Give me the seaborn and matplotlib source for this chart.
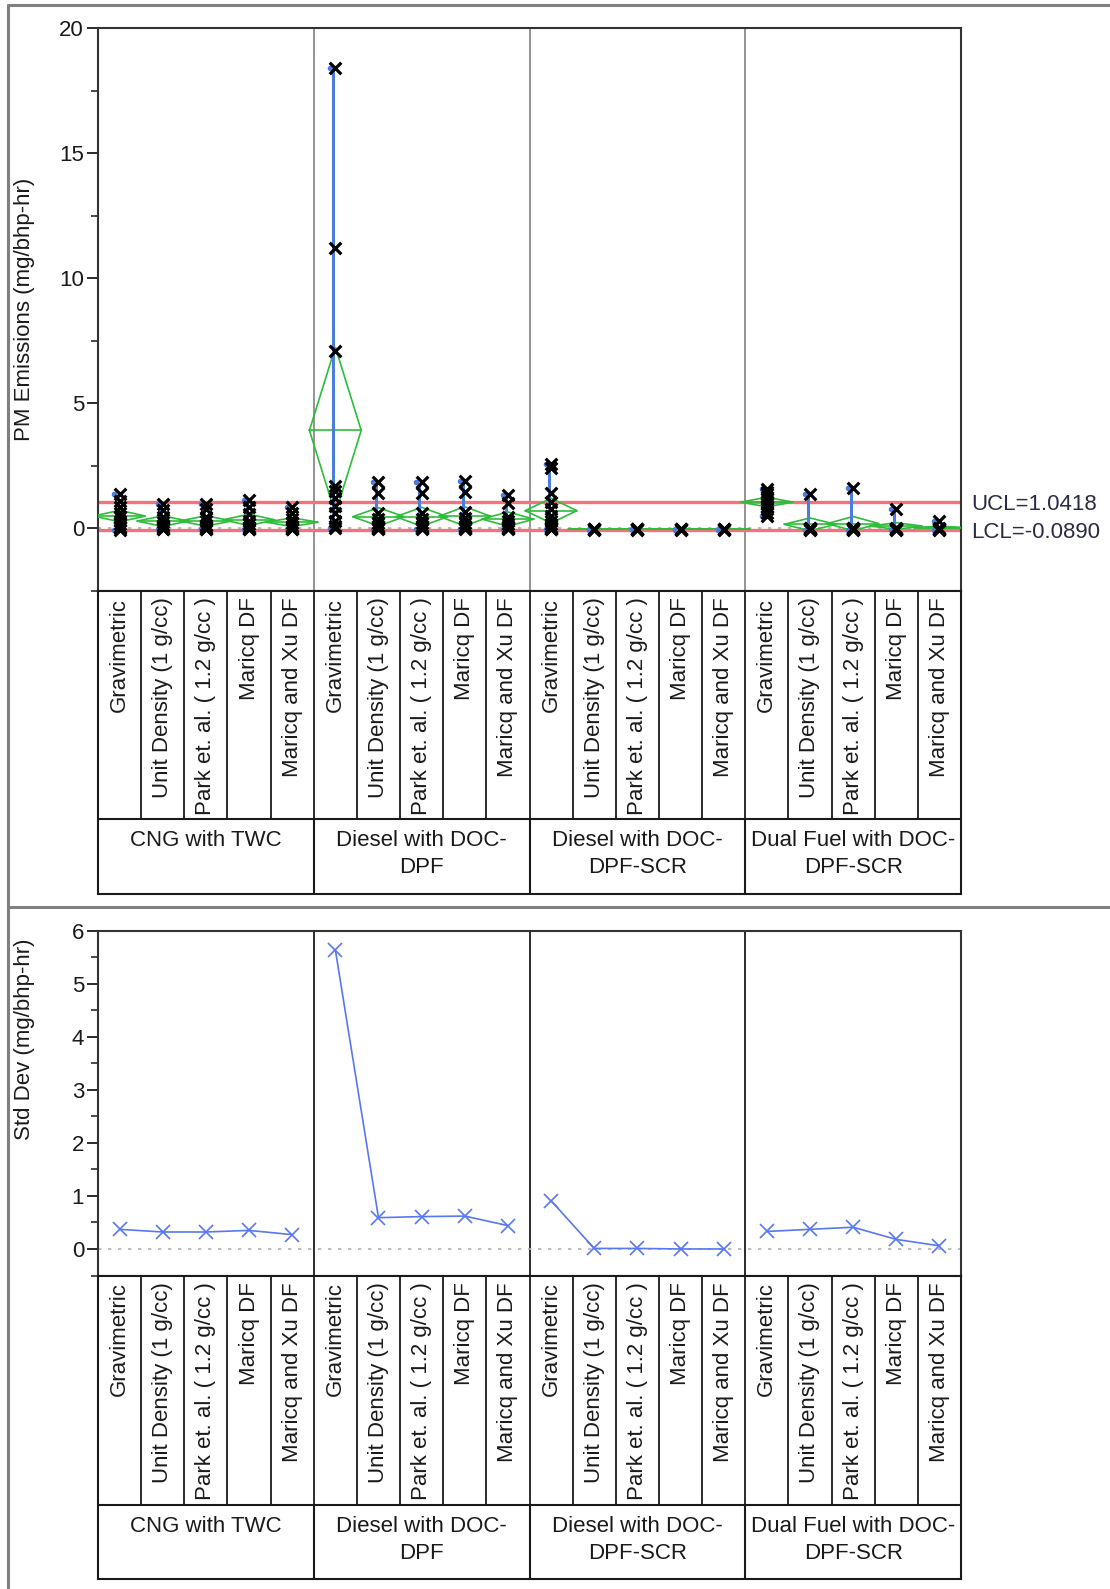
import numpy as np
import pandas as pd
import matplotlib
matplotlib.use("Agg")
import matplotlib.pyplot as plt
from matplotlib.lines import Line2D
from matplotlib.patches import Polygon
import seaborn as sns

sns.set_theme(style="white")
plt.rcParams["font.family"] = ["Liberation Sans", "DejaVu Sans"]

# ---------------------------------------------------------------- data
systems = ["CNG with TWC", "Diesel with DOC-\nDPF",
           "Diesel with DOC-\nDPF-SCR", "Dual Fuel with DOC-\nDPF-SCR"]
methods = ["Gravimetric", "Unit Density (1 g/cc)", "Park et. al. ( 1.2 g/cc )",
           "Maricq DF", "Maricq and Xu DF"]

# PM emissions (mg/bhp-hr), one list per method within each aftertreatment system
pm_cng_twc = [
    [1.38, 1.1, 0.85, 0.6, 0.45, 0.3, 0.15, 0.05, 0.0, -0.08],
    [0.98, 0.72, 0.45, 0.25, 0.12, 0.05, 0.0, -0.02, -0.05],
    [0.98, 0.75, 0.45, 0.28, 0.12, 0.05, 0.0, -0.02, -0.05],
    [1.12, 0.85, 0.55, 0.3, 0.15, 0.05, 0.0, -0.02, -0.05],
    [0.85, 0.6, 0.38, 0.2, 0.1, 0.04, 0.0, -0.02, -0.04],
]
pm_diesel_dpf = [
    [18.4, 11.2, 7.1, 1.7, 1.5, 1.2, 0.9, 0.6, 0.3, 0.1, 0.0],
    [1.85, 1.42, 0.6, 0.35, 0.2, 0.1, 0.05, 0.0, 0.0, -0.05],
    [1.85, 1.4, 0.62, 0.35, 0.2, 0.1, 0.05, 0.0, 0.0, -0.05],
    [1.88, 1.45, 0.65, 0.4, 0.22, 0.1, 0.05, 0.0, 0.0, -0.05],
    [1.32, 1.0, 0.45, 0.3, 0.15, 0.05, 0.0, 0.0, -0.05],
]
pm_diesel_scr = [
    [2.55, 2.4, 1.4, 1.05, 0.75, 0.5, 0.3, 0.15, 0.05, 0.0, 0.0, -0.05, -0.05],
    [-0.02, -0.04, -0.05, -0.05, -0.06],
    [-0.02, -0.03, -0.05, -0.05, -0.06],
    [-0.03, -0.05, -0.05, -0.06],
    [-0.03, -0.05, -0.05, -0.06],
]
pm_dual_fuel = [
    [1.55, 1.45, 1.35, 1.25, 1.15, 1.05, 0.95, 0.85, 0.75, 0.6, 0.48],
    [1.38, 0.02, 0.0, -0.02, -0.04, -0.05, -0.05, -0.06],
    [1.62, 0.02, 0.0, -0.02, -0.04, -0.05, -0.05, -0.06],
    [0.78, 0.0, -0.02, -0.04, -0.05, -0.05, -0.06],
    [0.28, 0.02, -0.02, -0.04, -0.05, -0.06],
]

# standard deviation of each cell (mg/bhp-hr)
sd_cng_twc = [0.37, 0.32, 0.32, 0.35, 0.27]
sd_diesel_dpf = [5.64, 0.59, 0.61, 0.62, 0.44]
sd_diesel_scr = [0.91, 0.01, 0.01, 0.0, 0.0]
sd_dual_fuel = [0.33, 0.37, 0.41, 0.18, 0.06]

ucl = 1.0418
lcl = -0.0890

pm_tick_values = [0, 5, 10, 15, 20]
sd_tick_values = [0, 1, 2, 3, 4, 5, 6]

# ---------------------------------------------------------------- tidy tables
pm_groups = [pm_cng_twc, pm_diesel_dpf, pm_diesel_scr, pm_dual_fuel]
sd_groups = [sd_cng_twc, sd_diesel_dpf, sd_diesel_scr, sd_dual_fuel]

pm_rows, sd_rows = [], []
for gi, system in enumerate(systems):
    for mi, method in enumerate(methods):
        pos = gi * len(methods) + mi + 0.5
        for v in pm_groups[gi][mi]:
            pm_rows.append({"system": system, "method": method, "pos": pos, "pm": v})
        sd_rows.append({"system": system, "method": method, "pos": pos,
                        "sd": sd_groups[gi][mi], "n": len(pm_groups[gi][mi])})
pm_df = pd.DataFrame(pm_rows)
sd_df = pd.DataFrame(sd_rows)
cell_stats = (pm_df.groupby("pos")["pm"].agg(["mean", "min", "max", "count"])
              .reset_index().merge(sd_df[["pos", "sd"]], on="pos"))

n_cells = len(systems) * len(methods)

# ---------------------------------------------------------------- layout (pixels)
W, H = 1110, 1589
fig = plt.figure(figsize=(W / 100, H / 100), dpi=100)


def px_axes(left, top, right, bottom):
    return fig.add_axes([left / W, 1 - bottom / H, (right - left) / W, (bottom - top) / H])


X0, X1 = 98, 961
TOP_T, TOP_B = 28.4, 590.5
BOT_T, BOT_B = 930.6, 1275.5

ink = "#1a1a1a"
frame_grey = "#808080"
red = "#f2737e"
blue = "#4a7ddc"
green = "#2dbd3a"
sd_blue = "#5877f5"
FS = 16


def style_value_axes(ax, ymin, ymax, major, minor_step, div_color):
    ax.set_xlim(0, n_cells)
    ax.set_ylim(ymin, ymax)
    ax.set_xticks([])
    ax.set_yticks(major)
    ax.set_yticks(np.arange(ymin, ymax + 1e-9, minor_step), minor=True)
    ax.tick_params(axis="y", which="major", direction="out", length=8, width=1.3,
                   color=ink, labelsize=FS, labelcolor=ink, pad=2, left=True)
    ax.tick_params(axis="y", which="minor", direction="out", length=5, width=1.1,
                   color=ink, left=True)
    for s in ax.spines.values():
        s.set_visible(True)
        s.set_color("#333333")
        s.set_linewidth(1.5)
    for b in range(len(methods), n_cells, len(methods)):
        ax.axvline(b, color=div_color, lw=1.3, zorder=1)
    ax.set_xlabel("")
    ax.set_ylabel("")


def draw_table(top, level_bottom, group_bottom):
    ax = px_axes(X0, top, X1, group_bottom)
    h = group_bottom - top
    lvl = level_bottom - top
    ax.set_xlim(0, n_cells)
    ax.set_ylim(h, 0)
    ax.set_xticks([])
    ax.set_yticks([])
    for s in ax.spines.values():
        s.set_visible(True)
        s.set_color(ink)
        s.set_linewidth(1.5)
    ax.hlines(lvl, 0, n_cells, color=ink, lw=1.5)
    for i in range(1, n_cells):
        ax.vlines(i, 0, lvl, color=ink, lw=1.3)
    for b in range(len(methods), n_cells, len(methods)):
        ax.vlines(b, lvl, h, color=ink, lw=1.5)
    for i in range(n_cells):
        ax.text(i + 0.5, 7, methods[i % len(methods)], rotation=90, ha="center",
                va="top", fontsize=FS, color=ink)
    for gi, system in enumerate(systems):
        ax.text(gi * len(methods) + len(methods) / 2, lvl + 11, system, ha="center",
                va="top", fontsize=FS, color=ink, linespacing=1.4,
                multialignment="center")


# ---------------------------------------------------------------- PM chart
ax1 = px_axes(X0, TOP_T, X1, TOP_B)
style_value_axes(ax1, -2.5, 20, pm_tick_values, 2.5, "#8a8a8a")

ax1.axhline(0, color="#b0b0b0", lw=1.2, ls=(0, (2, 4)), zorder=1)
ax1.axhline(ucl, color=red, lw=2.4, zorder=2)
ax1.axhline(lcl, color=red, lw=2.4, zorder=2)

for _, r in cell_stats.iterrows():
    x = r["pos"]
    half = 1.96 * r["sd"] / np.sqrt(r["count"])
    dx = 0.6
    diamond = Polygon([[x - dx, r["mean"]], [x, r["mean"] + half],
                       [x + dx, r["mean"]], [x, r["mean"] - half]],
                      closed=True, fill=False, edgecolor=green, lw=1.2, zorder=3)
    ax1.add_patch(diamond)
    ax1.plot([x - dx, x + dx], [r["mean"], r["mean"]], color=green, lw=1.2, zorder=3)
    ax1.plot([x - 0.05, x - 0.05], [r["min"], r["max"]], color=blue, lw=2.2,
             solid_capstyle="butt", zorder=4)
    ax1.plot([x - 0.12, x - 0.12], [r["min"], r["max"]], ls="none", marker="o",
             ms=3, color=blue, zorder=4)

sns.scatterplot(data=pm_df, x="pos", y="pm", marker="x", color="black", s=70,
                linewidth=2.3, ax=ax1, zorder=6, legend=False)
ax1.set_xlabel("")
ax1.set_ylabel("")
ax1.set_xticks([])

fig.text(971 / W, 1 - 504 / H, f"UCL={ucl:.4f}", fontsize=FS, color="#2b2b44",
         va="center", ha="left")
fig.text(971 / W, 1 - 532 / H, f"LCL={lcl:.4f}", fontsize=FS, color="#2b2b44",
         va="center", ha="left")
fig.text(25 / W, 1 - 309 / H, "PM Emissions (mg/bhp-hr)", rotation=90,
         fontsize=FS, color=ink, ha="center", va="center")

draw_table(TOP_B, 819, 894)

# ---------------------------------------------------------------- Std Dev chart
ax2 = px_axes(X0, BOT_T, X1, BOT_B)
style_value_axes(ax2, -0.5, 6, sd_tick_values, 0.5, ink)
ax2.axhline(0, color="#b0b0b0", lw=1.2, ls=(0, (2, 4)), zorder=1)
sns.lineplot(data=sd_df, x="pos", y="sd", units="system", estimator=None,
             color=sd_blue, lw=1.2, marker="x", markersize=10, markeredgewidth=1.2,
             markeredgecolor=sd_blue, ax=ax2, legend=False, zorder=4)
ax2.set_xlabel("")
ax2.set_ylabel("")
ax2.set_xticks([])

fig.text(25 / W, 1 - 1039 / H, "Std Dev (mg/bhp-hr)", rotation=90,
         fontsize=FS, color=ink, ha="center", va="center")

draw_table(BOT_B, 1505, 1579)

# ---------------------------------------------------------------- report frame
for xs, ys in [((8, W), (5, 5)), ((8, 8), (5, H)), ((8, W), (907, 907))]:
    fig.add_artist(Line2D([x / W for x in xs], [1 - y / H for y in ys],
                          transform=fig.transFigure, color=frame_grey, lw=2.2))

fig.savefig("out.png", dpi=100, facecolor="white")
